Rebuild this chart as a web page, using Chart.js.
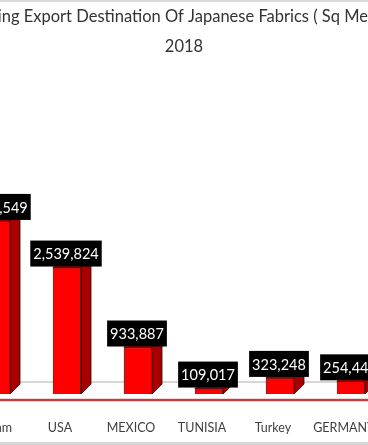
<!DOCTYPE html>
<html>
<head>
<meta charset="utf-8">
<script src="https://cdn.jsdelivr.net/npm/chart.js@4.4.1/dist/chart.umd.min.js"></script>
<style>
    html, body {
        margin: 0;
        padding: 0;
        background: #fff;
        overflow: hidden;
    }
    #frame {
        position: relative;
        width: 368px;
        height: 445px;
        overflow: hidden;
    }
    #frame:before, #frame:after {
        content: '';
        position: absolute;
        left: 0;
        right: 0;
        height: 3px;
        background: #d9d9d9;
        z-index: 2;
    }
    #frame:before { top: 0; height: 2px; }
    #frame:after { bottom: 0; }
    #chart {
        position: absolute;
        left: -40px;
        top: 0;
    }
</style>
</head>
<body>
<div id="frame">
    <canvas id="chart" width="448" height="445"></canvas>
</div>
<script>
// Chart data
const categories = ['Vietnam', 'USA', 'MEXICO', 'TUNISIA', 'Turkey', 'GERMANY'];
const exportValues = [3476549, 2539824, 933887, 109017, 323248, 254448];
const titleLines = ['Leading Export Destination Of Japanese Fabrics ( Sq Meters )', '2018'];

const FONT = 'Lato';
const DEPTH = 10;

/**
 * Draws the 3D floor lines, the bar sides and the black value boxes
 */
const bar3dPlugin = {
    id: 'bar3d',
    beforeDatasetsDraw(chart) {
        const { ctx, chartArea } = chart;
        ctx.save();
        // back floor line
        ctx.strokeStyle = '#c8c8c8';
        ctx.lineWidth = 1.5;
        ctx.beginPath();
        ctx.moveTo(0, chartArea.bottom - DEPTH - 2);
        ctx.lineTo(chart.width, chartArea.bottom - DEPTH - 2);
        ctx.stroke();
        // front red line
        ctx.strokeStyle = '#d45a5a';
        ctx.lineWidth = 2.5;
        ctx.beginPath();
        ctx.moveTo(0, chartArea.bottom + 6);
        ctx.lineTo(chart.width, chartArea.bottom + 6);
        ctx.stroke();
        ctx.strokeStyle = '#b02020';
        ctx.lineWidth = 1;
        ctx.beginPath();
        ctx.moveTo(0, chartArea.bottom + 6);
        ctx.lineTo(chart.width, chartArea.bottom + 6);
        ctx.stroke();
        ctx.restore();
    },
    afterDatasetsDraw(chart) {
        const { ctx } = chart;
        const meta = chart.getDatasetMeta(0);
        ctx.save();
        meta.data.forEach((bar, i) => {
            const { x, y, base, width } = bar.getProps(['x', 'y', 'base', 'width'], true);
            const left = x - width / 2;
            const right = x + width / 2;

            // side face
            ctx.fillStyle = '#a80000';
            ctx.strokeStyle = 'rgba(60,0,0,0.8)';
            ctx.lineWidth = 1;
            ctx.beginPath();
            ctx.moveTo(right, y);
            ctx.lineTo(right + DEPTH, y - DEPTH);
            ctx.lineTo(right + DEPTH, base - DEPTH);
            ctx.lineTo(right, base);
            ctx.closePath();
            ctx.fill();
            ctx.stroke();

            // top face
            ctx.fillStyle = '#e00000';
            ctx.beginPath();
            ctx.moveTo(left, y);
            ctx.lineTo(left + DEPTH, y - DEPTH);
            ctx.lineTo(right + DEPTH, y - DEPTH);
            ctx.lineTo(right, y);
            ctx.closePath();
            ctx.fill();
            ctx.stroke();

            // value box
            const label = exportValues[i].toLocaleString('en-US');
            ctx.font = '14.5px ' + FONT;
            const tw = ctx.measureText(label).width;
            const bw = tw + 6;
            const bh = 26;
            const bx = x - 1 - bw / 2;
            const by = y - 1 - bh;
            ctx.fillStyle = '#000';
            ctx.fillRect(bx, by, bw, bh);
            ctx.fillStyle = '#fff';
            ctx.textAlign = 'center';
            ctx.textBaseline = 'middle';
            ctx.fillText(label, bx + bw / 2, by + bh / 2 + 1);
        });
        ctx.restore();
    }
};

new Chart(document.getElementById('chart'), {
    type: 'bar',
    data: {
        labels: categories,
        datasets: [{
            data: exportValues,
            backgroundColor: '#ff0000',
            borderColor: 'rgba(60,0,0,0.8)',
            borderWidth: 1,
            barThickness: 28
        }]
    },
    options: {
        responsive: false,
        animation: false,
        layout: {
            padding: { left: 0, right: 0, top: 0, bottom: 9 }
        },
        plugins: {
            legend: { display: false },
            tooltip: { enabled: false },
            title: {
                display: true,
                text: titleLines,
                color: '#333',
                font: { family: FONT, size: 16.5, weight: 'normal', lineHeight: 1.8 },
                padding: { top: 2, bottom: 10 }
            }
        },
        scales: {
            x: {
                grid: { display: false },
                border: { display: false },
                ticks: {
                    color: '#404040',
                    font: { family: FONT, size: 12.5 },
                    padding: 18,
                    labelOffset: -7,
                    maxRotation: 0
                },
                afterFit(scale) {
                    // fixed axis height and side room, plot is wider than the window
                    scale.height = 42;
                    scale.paddingLeft = 0.5;
                    scale.paddingRight = 21.5;
                }
            },
            y: {
                display: false,
                min: 0,
                max: 6480000
            }
        }
    },
    plugins: [bar3dPlugin]
});
</script>
</body>
</html>
